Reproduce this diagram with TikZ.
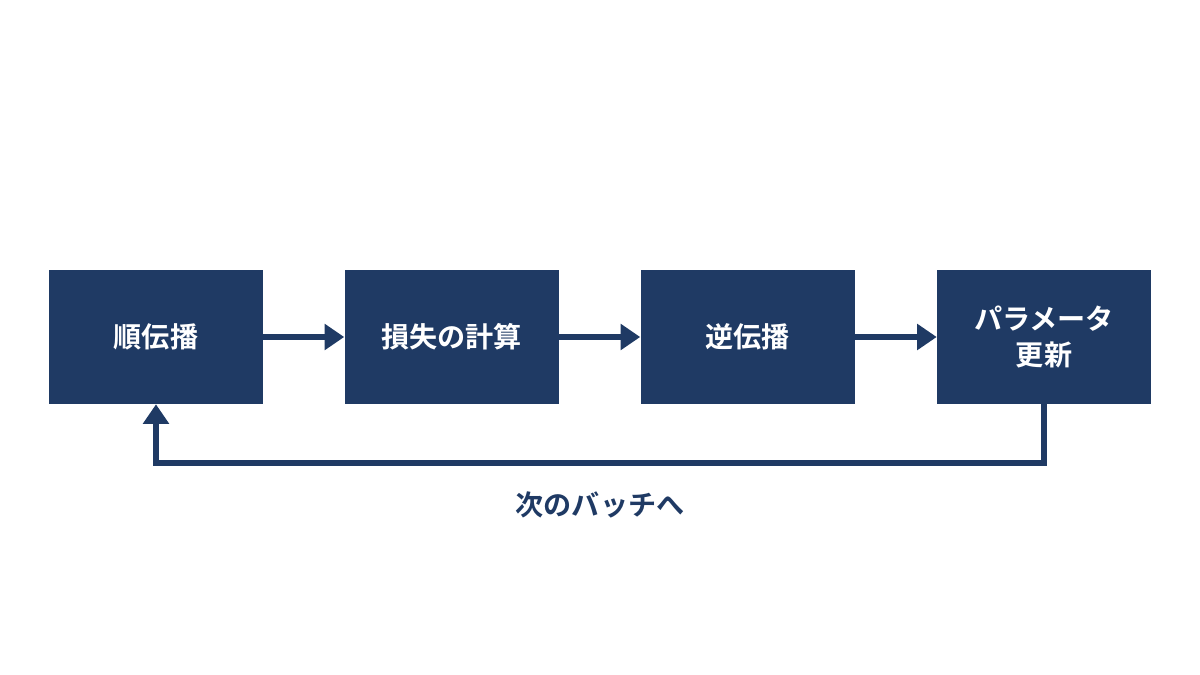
\documentclass[tikz,border=0pt]{standalone}
\usepackage{fontspec}
\newfontfamily\cjk{Noto Sans CJK JP}[BoldFont={Noto Sans CJK JP Bold}]
\usetikzlibrary{arrows.meta}
\definecolor{navy}{HTML}{1F3A64}
\begin{document}
\begin{tikzpicture}[x=0.025cm,y=-0.025cm,
  box/.style={fill=navy,draw=none,minimum width=214*0.025cm,minimum height=134*0.025cm,inner sep=0,text=white,font=\cjk\bfseries\fontsize{20}{25}\selectfont,align=center},
  arr/.style={draw=navy,line width=4.5pt,-{Triangle[length=14pt,width=18pt]}}]
\useasboundingbox (0,0) rectangle (1200,675);
\node[box] (a) at (156,337) {順伝播};
\node[box] (b) at (451.5,337) {損失の計算};
\node[box] (c) at (747.5,337) {逆伝播};
\node[box] (d) at (1044,337) {パラメータ\\更新};
\draw[arr] (a) -- (b);
\draw[arr] (b) -- (c);
\draw[arr] (c) -- (d);
\draw[arr] (d.south) -- ++(0,59) -| (a.south);
\node[font=\cjk\bfseries\fontsize{20}{25}\selectfont,text=navy] (l) at (600,505) {次のバッチへ};
\end{tikzpicture}
\end{document}
